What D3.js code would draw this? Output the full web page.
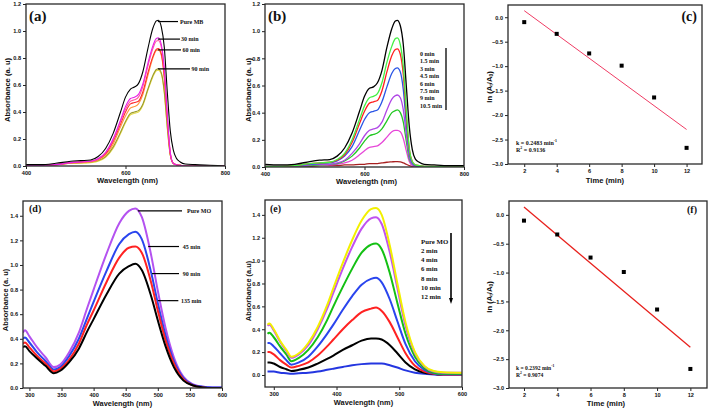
<!DOCTYPE html>
<html><head><meta charset="utf-8">
<script src="https://cdn.jsdelivr.net/npm/d3@7"></script>
<style>body{margin:0;background:#fff}svg{display:block}</style>
</head><body>
<svg id="chart" width="709" height="411"></svg>
<script>
// ---------- DATA ----------
// Methylene blue spectra (panels a, b)
const mbWavelength = [400,430,460,490,510,530,545,560,575,590,600,610,618,626,635,645,655,662,666,672,678,684,690,696,702,710,720,740,770,800];
const mbPure   = [0.01,0.01,0.02,0.035,0.04,0.045,0.07,0.13,0.24,0.40,0.51,0.57,0.585,0.61,0.70,0.87,1.02,1.075,1.08,1.03,0.88,0.55,0.26,0.12,0.06,0.03,0.015,0.01,0.005,0.0];
const mb30     = [0.005,0.005,0.01,0.025,0.03,0.035,0.055,0.10,0.20,0.34,0.44,0.50,0.51,0.53,0.61,0.76,0.89,0.945,0.95,0.90,0.72,0.38,0.10,0.02,0.01,0.005,0,0,0,0];
const mbPink   = [0.005,0.005,0.01,0.025,0.03,0.035,0.05,0.10,0.19,0.33,0.42,0.48,0.49,0.51,0.59,0.74,0.87,0.925,0.93,0.88,0.70,0.37,0.10,0.02,0.01,0.005,0,0,0,0];
const mb60     = [0.005,0.005,0.01,0.025,0.03,0.035,0.05,0.09,0.18,0.31,0.40,0.46,0.47,0.48,0.55,0.69,0.81,0.865,0.87,0.83,0.66,0.35,0.09,0.02,0.01,0.005,0,0,0,0];
const mbOrange = [0.005,0.005,0.01,0.02,0.025,0.03,0.045,0.08,0.16,0.29,0.37,0.43,0.44,0.46,0.53,0.67,0.80,0.855,0.86,0.82,0.65,0.34,0.09,0.02,0.01,0.005,0,0,0,0];
const mb90     = [0.005,0.005,0.01,0.02,0.025,0.03,0.04,0.07,0.14,0.25,0.33,0.39,0.40,0.41,0.46,0.57,0.67,0.715,0.72,0.69,0.55,0.29,0.08,0.02,0.01,0.005,0,0,0,0];
const mbYellow = [0.005,0.005,0.01,0.02,0.02,0.025,0.035,0.065,0.13,0.24,0.32,0.38,0.39,0.40,0.45,0.56,0.66,0.705,0.71,0.68,0.54,0.28,0.08,0.02,0.01,0.005,0,0,0,0];
const mbLabelsA = ["Pure MB","30 min","60 min","90 min"];

const mbT0   = [0.02,0.015,0.02,0.04,0.05,0.055,0.08,0.14,0.25,0.41,0.52,0.58,0.59,0.62,0.71,0.88,1.02,1.075,1.08,1.04,0.90,0.60,0.30,0.13,0.06,0.035,0.02,0.015,0.01,0.01];
const mbT15  = [0.005,0.005,0.01,0.025,0.03,0.035,0.055,0.10,0.20,0.35,0.45,0.51,0.52,0.54,0.62,0.77,0.89,0.945,0.95,0.90,0.74,0.42,0.14,0.04,0.015,0.01,0.005,0.005,0,0];
const mbT3   = [0.005,0.005,0.01,0.025,0.03,0.035,0.05,0.09,0.18,0.32,0.41,0.47,0.48,0.49,0.56,0.70,0.82,0.865,0.87,0.83,0.68,0.38,0.13,0.04,0.015,0.01,0.005,0.005,0,0];
const mbT45  = [0.005,0.005,0.01,0.02,0.025,0.03,0.045,0.08,0.15,0.27,0.35,0.40,0.41,0.42,0.48,0.59,0.69,0.725,0.73,0.70,0.57,0.32,0.11,0.03,0.01,0.005,0.005,0,0,0];
const mbT6   = [0.005,0.005,0.005,0.015,0.02,0.02,0.03,0.05,0.10,0.17,0.23,0.27,0.28,0.29,0.33,0.42,0.50,0.525,0.53,0.51,0.42,0.24,0.08,0.02,0.01,0.005,0,0,0,0];
const mbT75  = [0.005,0.005,0.005,0.01,0.015,0.02,0.025,0.045,0.08,0.14,0.19,0.23,0.24,0.25,0.28,0.34,0.40,0.415,0.42,0.40,0.33,0.19,0.06,0.02,0.01,0.005,0,0,0,0];
const mbT9   = [0.005,0.005,0.005,0.01,0.01,0.015,0.02,0.03,0.05,0.09,0.12,0.145,0.15,0.155,0.18,0.22,0.26,0.27,0.27,0.26,0.21,0.12,0.04,0.01,0.005,0,0,0,0,0];
const mbT105 = [0.0,0.0,0.005,0.005,0.01,0.01,0.01,0.015,0.015,0.02,0.02,0.025,0.025,0.025,0.03,0.035,0.038,0.04,0.04,0.038,0.03,0.02,0.01,0.005,0,0,0,0,0,0];
const mbLabelsB = ["0 min","1.5 min","3 min","4.5 min","6 min","7.5 min","9   min","10.5 min"];

// Methyl orange spectra (panel d)
const moWavelengthD = [290,293,300,312,325,338,348,362,377,390,400,420,440,455,465,475,490,500,512,525,540,555,570,585,600];
const moPureD = [0.45,0.47,0.42,0.33,0.25,0.17,0.19,0.29,0.45,0.65,0.80,1.09,1.34,1.44,1.46,1.39,1.07,0.79,0.49,0.25,0.09,0.03,0.01,0.005,0.005];
const mo45    = [0.40,0.41,0.37,0.29,0.22,0.15,0.17,0.26,0.40,0.57,0.70,0.95,1.17,1.25,1.27,1.21,0.93,0.69,0.43,0.22,0.08,0.025,0.01,0.005,0.005];
const mo90    = [0.36,0.37,0.33,0.26,0.20,0.135,0.155,0.23,0.36,0.52,0.63,0.86,1.06,1.14,1.15,1.10,0.85,0.63,0.39,0.20,0.07,0.02,0.005,0,0];
const mo135   = [0.33,0.34,0.30,0.24,0.18,0.12,0.14,0.21,0.32,0.46,0.56,0.76,0.93,0.99,1.01,0.96,0.74,0.55,0.34,0.17,0.06,0.02,0.005,0,0];
const moLabelsD = ["Pure MO","45 min","90 min","135 min"];

// Methyl orange spectra (panel e)
const moWavelengthE = [290,293,300,310,320,328,340,355,370,385,395,410,425,440,455,463,472,485,497,510,525,540,555,570,600];
const moPureE = [0.44,0.45,0.40,0.30,0.22,0.16,0.19,0.28,0.42,0.61,0.76,0.98,1.18,1.35,1.45,1.46,1.40,1.13,0.80,0.46,0.20,0.08,0.035,0.025,0.02];
const moE2    = [0.43,0.44,0.39,0.29,0.21,0.15,0.18,0.26,0.40,0.58,0.72,0.93,1.12,1.28,1.37,1.38,1.32,1.07,0.76,0.43,0.19,0.075,0.03,0.02,0.02];
const moE4    = [0.36,0.37,0.33,0.25,0.18,0.12,0.15,0.22,0.33,0.48,0.60,0.77,0.93,1.07,1.14,1.15,1.10,0.89,0.63,0.36,0.16,0.06,0.02,0.01,0.01];
const moE6    = [0.28,0.28,0.25,0.19,0.13,0.09,0.11,0.16,0.25,0.36,0.44,0.57,0.69,0.79,0.84,0.85,0.81,0.66,0.47,0.27,0.12,0.045,0.015,0.005,0.005];
const moE8    = [0.20,0.20,0.18,0.13,0.09,0.065,0.08,0.11,0.17,0.25,0.31,0.40,0.48,0.55,0.58,0.59,0.56,0.46,0.33,0.19,0.08,0.03,0.01,0,0];
const moE10   = [0.11,0.11,0.10,0.07,0.05,0.035,0.045,0.065,0.10,0.14,0.17,0.22,0.26,0.30,0.32,0.32,0.31,0.26,0.19,0.11,0.05,0.02,0.01,0,0];
const moE12   = [0.03,0.03,0.03,0.02,0.015,0.01,0.015,0.02,0.03,0.045,0.055,0.07,0.085,0.095,0.10,0.10,0.10,0.085,0.065,0.04,0.02,0.01,0.005,0,0];
const moLabelsE = ["Pure MO","2 min","4 min","6 min","8 min","10 min","12 min"];

// Kinetics (panels c, f)
const timeC = [2,4,6,8,10,12];
const lnC   = [-0.10,-0.34,-0.74,-0.99,-1.64,-2.67];
const timeF = [2,4,6,8,10,12];
const lnF   = [-0.10,-0.34,-0.74,-0.99,-1.64,-2.67];

const mbTicks = [400,600,800];
const absTicksTop = [0,0.2,0.4,0.6,0.8,1.0,1.2];
const moTicksD = [300,350,400,450,500,550,600];
const moTicksE = [300,400,500,600];
const absTicksBottom = [0,0.2,0.4,0.6,0.8,1.0,1.2,1.4];
const timeTicks = [2,4,6,8,10,12];
const lnTicks = [0,-0.5,-1.0,-1.5,-2.0,-2.5,-3.0];

// ---------- DRAWING ----------
const svg = d3.select("#chart");
const SANS = "'Liberation Sans', Arial, sans-serif";
const SERIF = "'Liberation Serif', 'Times New Roman', serif";
let clipId = 0;

function panel(o) {
  const x = d3.scaleLinear().domain(o.xDomain).range([o.box[0], o.box[1]]);
  const y = d3.scaleLinear().domain(o.yDomain).range([o.box[3], o.box[2]]);
  const g = svg.append("g");
  const xa = d3.axisBottom(x).tickValues(o.xTicks).tickSize(3).tickSizeOuter(0).tickPadding(o.tp || 2).tickFormat(o.xFmt || d3.format("d"));
  const ya = d3.axisLeft(y).tickValues(o.yTicks).tickSize(3).tickSizeOuter(0).tickPadding(o.tp || 2).tickFormat(d3.format(".1f"));
  const gx = g.append("g").attr("transform", `translate(0,${o.box[3]})`).call(xa);
  const gy = g.append("g").attr("transform", `translate(${o.box[0]},0)`).call(ya);
  [gx, gy].forEach(a => {
    a.select(".domain").remove();
    a.selectAll("line").attr("stroke", "#222").attr("stroke-width", 1);
    a.selectAll("text").attr("font-family", SANS).attr("font-weight", "bold").attr("font-size", o.tickFont).attr("fill", "#111");
  });
  const id = "clip" + (clipId++);
  svg.append("clipPath").attr("id", id).append("rect")
    .attr("x", o.box[0]).attr("y", o.box[2]).attr("width", o.box[1]-o.box[0]).attr("height", o.box[3]-o.box[2]);
  const plot = g.append("g").attr("clip-path", `url(#${id})`);
  g.append("rect").attr("x", o.box[0]).attr("y", o.box[2]).attr("width", o.box[1]-o.box[0]).attr("height", o.box[3]-o.box[2])
    .attr("fill", "none").attr("stroke", "#2a2a2a").attr("stroke-width", 1.3);
  g.append("text").attr("x", (o.box[0]+o.box[1])/2 + (o.xtDx||0)).attr("y", o.xTitleY).attr("text-anchor","middle")
    .attr("font-family", SANS).attr("font-weight","bold").attr("font-size", o.titleFont).attr("fill","#111").text(o.xTitle);
  const yt = g.append("text").attr("transform", `translate(${o.yTitleX},${o.yTitleYc}) rotate(-90)`).attr("text-anchor","middle")
    .attr("dominant-baseline","central").attr("font-family", SANS).attr("font-weight","bold").attr("font-size", o.titleFont).attr("fill","#111");
  if (o.lnTitle) {
    yt.append("tspan").text("ln (A");
    yt.append("tspan").attr("baseline-shift","sub").attr("font-size", o.titleFont*0.65).text("t");
    yt.append("tspan").text("/A");
    yt.append("tspan").attr("baseline-shift","sub").attr("font-size", o.titleFont*0.65).text("0");
    yt.append("tspan").text(")");
  } else yt.text(o.yTitle);
  g.append("text").attr("x", o.letter[0]).attr("y", o.letter[1]).attr("text-anchor", o.letter[3] || "start")
    .attr("font-family", SERIF).attr("font-weight","bold").attr("font-size", o.letter[2]).attr("fill","#111").text(o.letter[4]);
  return {x, y, plot, g};
}

function drawSpectra(p, wl, series, width) {
  const line = d3.line().x((d,i) => p.x(wl[i])).y(d => p.y(d)).curve(d3.curveMonotoneX);
  series.forEach(s => {
    p.plot.append("path").attr("d", line(s.v)).attr("fill","none").attr("stroke", s.c).attr("stroke-width", width).attr("stroke-linejoin","round");
  });
}

function legendText(g, x, y, text, size) {
  return g.append("text").attr("x", x).attr("y", y).attr("dominant-baseline","central")
    .attr("font-family", SERIF).attr("font-weight","bold").attr("font-size", size).attr("fill","#111").text(text);
}

// ---- (a) ----
const pa = panel({box:[26,225,4,166], xDomain:[400,800], yDomain:[0,1.2], xTicks:mbTicks, yTicks:absTicksTop,
  tickFont:5.6, titleFont:7.6, xTitle:"Wavelength (nm)", xTitleY:183, xtDx:2, yTitle:"Absorbance (a. u)", yTitleX:7, yTitleYc:90,
  letter:[29,21,15,"start","(a)"]});
drawSpectra(pa, mbWavelength, [
  {v:mbYellow,c:"#e6dc4a"},{v:mb90,c:"#9a9a2a"},{v:mbOrange,c:"#ff9a40"},{v:mb60,c:"#ff2a2a"},
  {v:mbPink,c:"#ff5a9a"},{v:mb30,c:"#e81ee8"},{v:mbPure,c:"#000"}], 1.1);
const annA = [[665,1.07,705.5,709.5],[665,0.94,709.5,711.5],[665,0.86,711.5,714.5],[665,0.72,729.6,732.7]];
annA.forEach((a,i) => {
  pa.g.append("line").attr("x1",pa.x(a[0])).attr("x2",pa.x(a[2])).attr("y1",pa.y(a[1])).attr("y2",pa.y(a[1])).attr("stroke","#000").attr("stroke-width",1.2);
  legendText(pa.g, pa.x(a[3]), pa.y(a[1]), mbLabelsA[i], 6);
});

// ---- (b) ----
const pb = panel({box:[265,464,4,167], xDomain:[400,800], yDomain:[0,1.2], xTicks:mbTicks, yTicks:absTicksTop,
  tickFont:5.6, titleFont:7.6, xTitle:"Wavelength (nm)", xTitleY:184, xtDx:2, yTitle:"Absorbance (a. u)", yTitleX:248, yTitleYc:90,
  letter:[268,21,15,"start","(b)"]});
drawSpectra(pb, mbWavelength, [
  {v:mbT105,c:"#a82020"},{v:mbT9,c:"#e648d8"},{v:mbT75,c:"#22c822"},{v:mbT6,c:"#b046e6"},
  {v:mbT45,c:"#2a55e6"},{v:mbT3,c:"#ff2020"},{v:mbT15,c:"#44f044"},{v:mbT0,c:"#000"}], 1.3);
mbLabelsB.forEach((t,i) => legendText(pb.g, 420, 54 + i*7.4, t, 6));
pb.g.append("line").attr("x1",446).attr("x2",446).attr("y1",48).attr("y2",110).attr("stroke","#000").attr("stroke-width",1.3);

// ---- kinetics ----
function kinetics(o, tx, ty, lineColor, texts) {
  const p = panel(o);
  const mx = d3.mean(tx), my = d3.mean(ty);
  const slope = d3.sum(tx, (t,i) => (t-mx)*(ty[i]-my)) / d3.sum(tx, t => (t-mx)*(t-mx));
  const icpt = my - slope*mx;
  const x0 = d3.min(tx), x1 = d3.max(tx);
  p.plot.append("line").attr("x1",p.x(x0)).attr("x2",p.x(x1)).attr("y1",p.y(icpt+slope*x0)).attr("y2",p.y(icpt+slope*x1))
    .attr("stroke",lineColor).attr("stroke-width",o.lw);
  p.plot.selectAll("rect.pt").data(tx).enter().append("rect").attr("class","pt")
    .attr("x",(d)=>p.x(d)-o.ms/2).attr("y",(d,i)=>p.y(ty[i])-o.ms/2).attr("width",o.ms).attr("height",o.ms).attr("fill","#000");
  texts.forEach((t) => {
    const el = p.g.append("text").attr("x", t[0]).attr("y", t[1]).attr("dominant-baseline","central")
      .attr("font-family", SERIF).attr("font-weight","bold").attr("font-size", o.kFont).attr("fill","#111");
    el.append("tspan").text(t[2]);
    el.append("tspan").attr("baseline-shift","super").attr("font-size", o.kFont*0.65).text(t[3]);
    el.append("tspan").text(t[4]);
  });
  return p;
}
kinetics({box:[508,702,5,164], xDomain:[1,12.95], yDomain:[-3,0.25], xTicks:timeTicks, yTicks:lnTicks, xFmt:d3.format("d"),
  tickFont:5.6, titleFont:7.6, xTitle:"Time (min)", xTitleY:183, xtDx:0, lnTitle:true, yTitleX:489, yTitleYc:87,
  letter:[697,21,14,"end","(c)"], lw:1, ms:4, kFont:6}, timeC, lnC, "#f03c64",
  [[516,143,"k = 0.2483 min","-1",""],[516,150,"R","2"," = 0.9136"]]);
kinetics({box:[509,707,201,388], xDomain:[1.1,13.0], yDomain:[-3,0.24], xTicks:timeTicks, yTicks:lnTicks, xFmt:d3.format("d"),
  tickFont:5.6, titleFont:7.6, xTitle:"Time (min)", xTitleY:406, xtDx:-2, lnTitle:true, yTitleX:489, yTitleYc:297,
  letter:[697,213,10,"end","(f)"], lw:1.3, ms:4, kFont:5.6}, timeF, lnF, "#e8201c",
  [[516,368,"k = 0.2392 min","-1",""],[516,375,"R","2"," = 0.9074"]]);

// ---- (d) ----
const pd = panel({box:[23,222,201,388], xDomain:[290,600], yDomain:[0,1.52], xTicks:moTicksD, yTicks:absTicksBottom,
  tickFont:5.6, titleFont:7.4, xTitle:"Wavelength (nm)", xTitleY:406, xtDx:0, yTitle:"Absorbance (a. u)", yTitleX:5, yTitleYc:300,
  letter:[29,212,10,"start","(d)"]});
drawSpectra(pd, moWavelengthD, [
  {v:moPureD,c:"#b452f0"},{v:mo45,c:"#2a45ee"},{v:mo90,c:"#ff2222"},{v:mo135,c:"#000"}], 2);
const annD = [[469,1.44,537.7,545.5],[485,1.15,533,539],[491,0.93,533,539],[500,0.71,532,536]];
annD.forEach((a,i) => {
  pd.g.append("line").attr("x1",pd.x(a[0])).attr("x2",pd.x(a[2])).attr("y1",pd.y(a[1])).attr("y2",pd.y(a[1])).attr("stroke","#000").attr("stroke-width",1.2);
  legendText(pd.g, pd.x(a[3]), pd.y(a[1]), moLabelsD[i], 6);
});

// ---- (e) ----
const pe = panel({box:[265,462,200,387], xDomain:[286,600], yDomain:[-0.105,1.53], xTicks:moTicksE, yTicks:absTicksBottom,
  tickFont:5.6, titleFont:7.4, xTitle:"Wavelength (nm)", xTitleY:405, xtDx:0, yTitle:"Absorbance (a.u)", yTitleX:248, yTitleYc:291,
  letter:[270,212,10,"start","(e)"]});
drawSpectra(pe, moWavelengthE, [
  {v:moE12,c:"#2436e0"},{v:moE10,c:"#000"},{v:moE8,c:"#ff2222"},{v:moE6,c:"#2a45ee"},
  {v:moE4,c:"#14c014"},{v:moE2,c:"#c052f0"},{v:moPureE,c:"#f2f000"}], 2);
moLabelsE.forEach((t,i) => legendText(pe.g, 421, 241 + i*9.3, t, 6.8));
pe.g.append("line").attr("x1",451).attr("x2",451).attr("y1",233).attr("y2",300).attr("stroke","#000").attr("stroke-width",1.6);
const arrowHead = d3.path(); arrowHead.moveTo(449,298); arrowHead.lineTo(453,298); arrowHead.lineTo(451,304); arrowHead.closePath();
pe.g.append("path").attr("d", arrowHead.toString()).attr("fill","#000");
</script>
</body></html>
